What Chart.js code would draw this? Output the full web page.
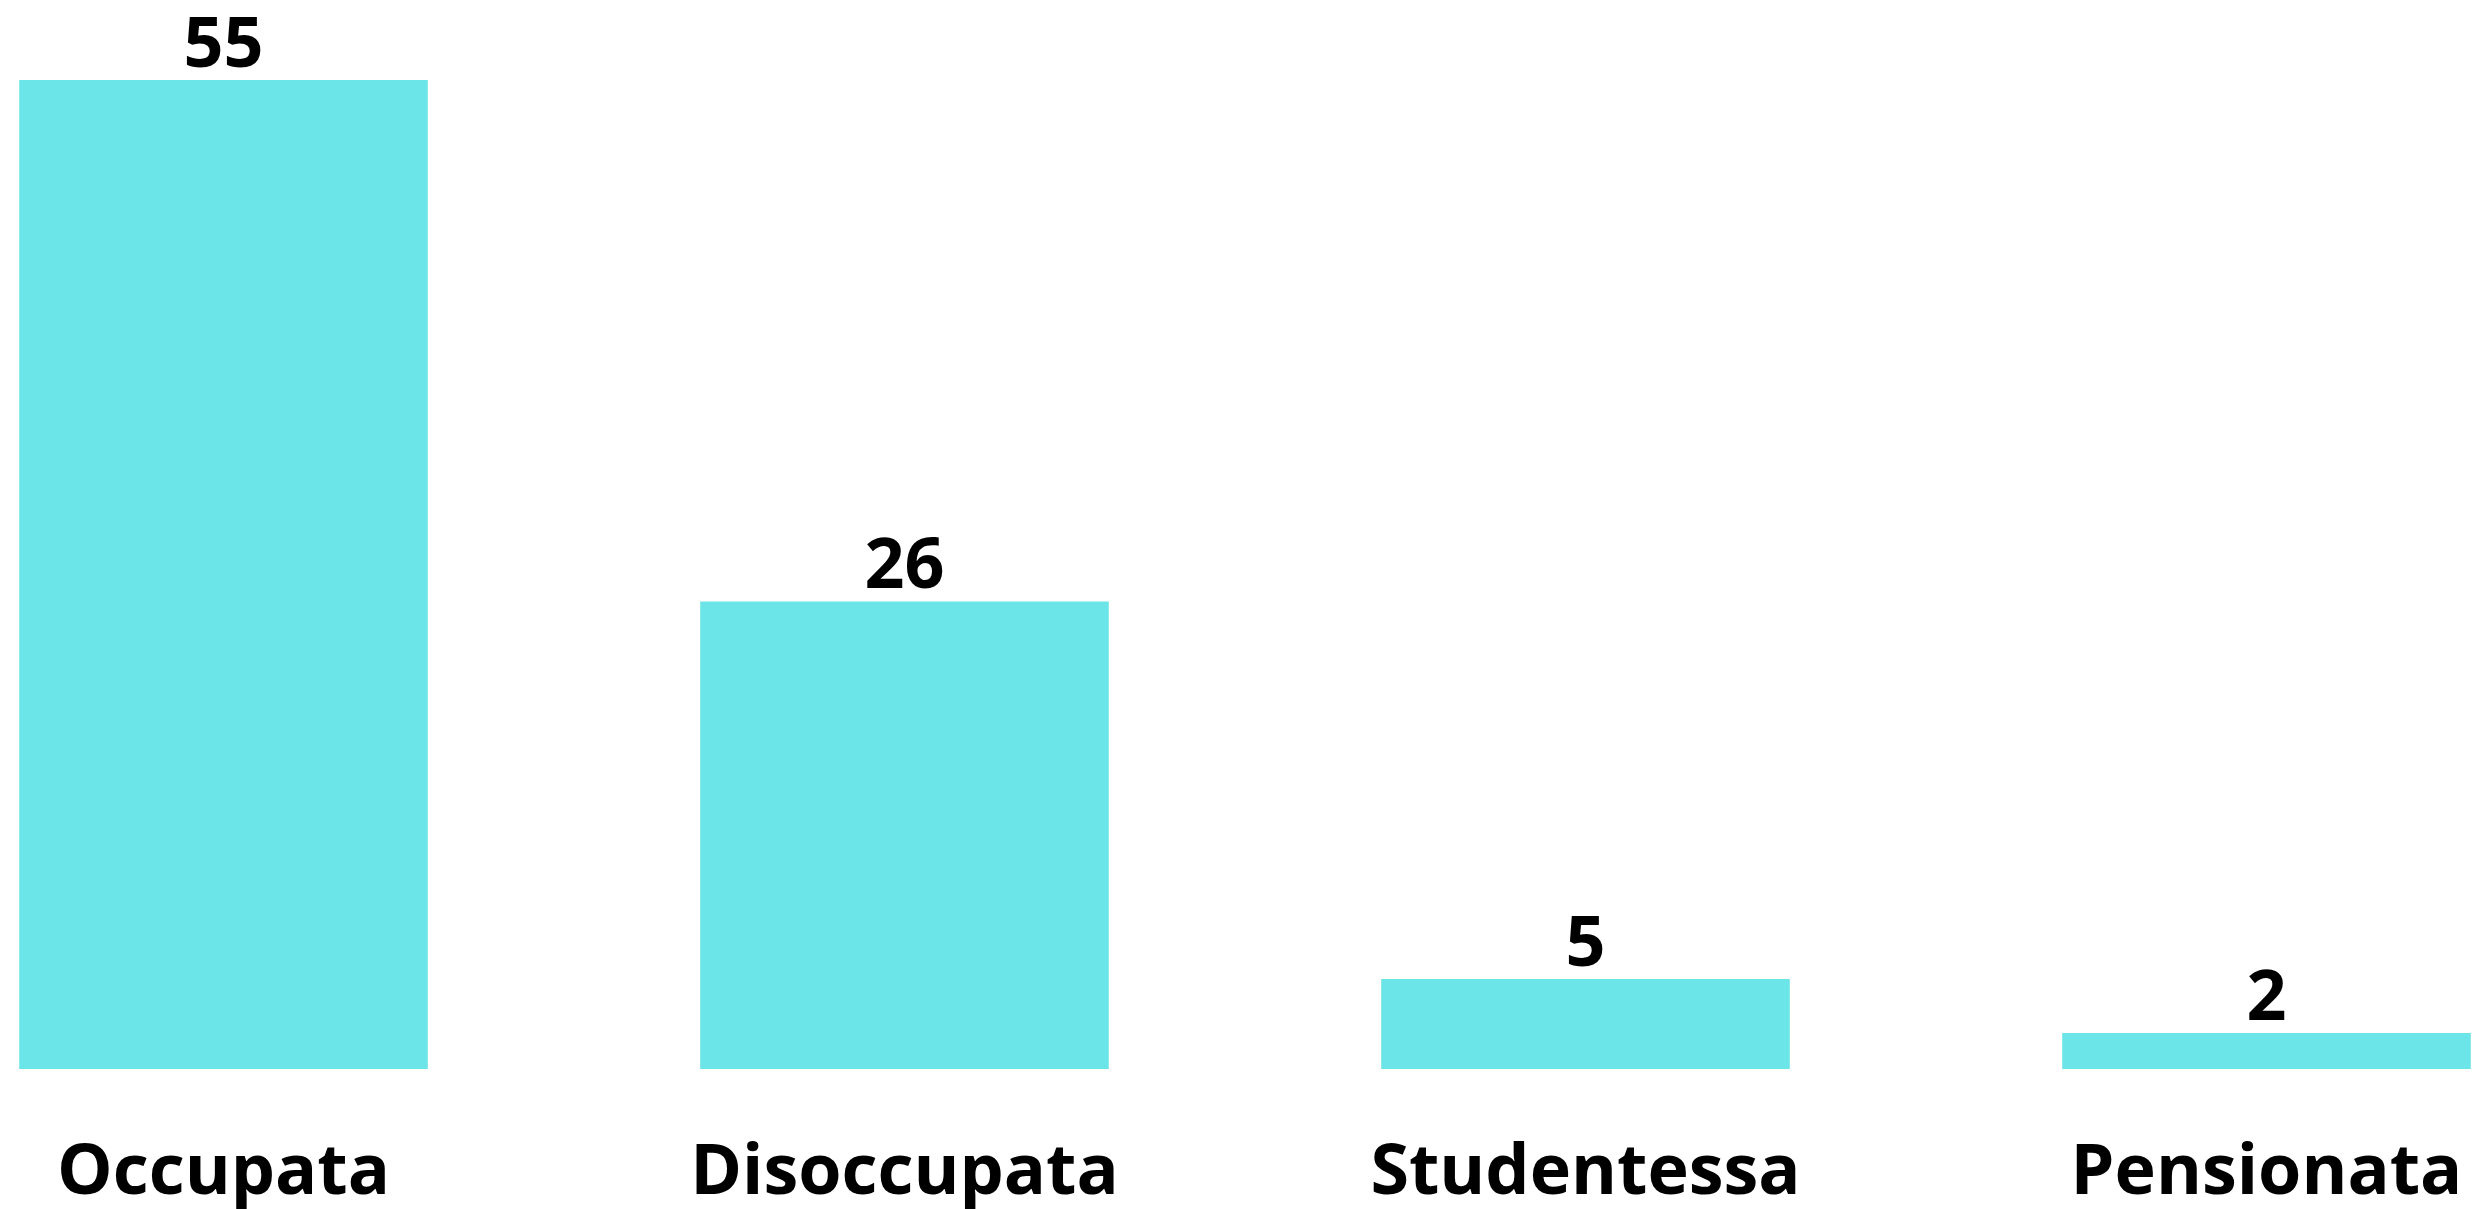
<!DOCTYPE html>
<html>
<head>
<meta charset="utf-8">
<script src="https://cdn.jsdelivr.net/npm/chart.js@4/dist/chart.umd.min.js"></script>
<style>
  html, body { margin: 0; padding: 0; background: #ffffff; overflow: hidden; }
  #wrap { width: 2474px; height: 1209px; }
</style>
</head>
<body>
<div id="wrap"><canvas id="c" width="2474" height="1209"></canvas></div>
<script>
const categories = ["Occupata", "Disoccupata", "Studentessa", "Pensionata"];
const values = [55, 26, 5, 2];
const barColor = "#6CE5E8";

const valueLabels = {
  id: "valueLabels",
  afterDatasetsDraw(chart) {
    const ctx = chart.ctx;
    const meta = chart.getDatasetMeta(0);
    ctx.save();
    ctx.font = "bold 70px 'Open Sans'";
    ctx.fillStyle = "#000000";
    ctx.textAlign = "center";
    ctx.textBaseline = "alphabetic";
    meta.data.forEach((bar, i) => {
      ctx.fillText(String(values[i]), bar.x, bar.y - 13);
    });
    ctx.restore();
  }
};

new Chart(document.getElementById("c"), {
  type: "bar",
  data: {
    labels: categories,
    datasets: [{
      data: values,
      backgroundColor: barColor,
      borderWidth: 0,
      categoryPercentage: 0.6,
      barPercentage: 1.0,
      clip: false
    }]
  },
  options: {
    responsive: false,
    animation: false,
    devicePixelRatio: 1,
    layout: { padding: { top: 80, left: 223.5, right: 207.5, bottom: -70 } },
    plugins: { legend: { display: false }, tooltip: { enabled: false } },
    scales: {
      x: {
        offset: false,
        grid: { display: false, drawTicks: false },
        border: { display: false },
        afterFit(scale) { scale.paddingLeft = 0; scale.paddingRight = 0; },
        ticks: {
          color: "#000000",
          padding: 63,
          maxRotation: 0,
          autoSkip: false,
          font: { family: "'Open Sans'", size: 70, weight: "bold" }
        }
      },
      y: {
        display: false,
        min: 0,
        max: 55,
        grid: { display: false }
      }
    }
  },
  plugins: [valueLabels]
});
</script>
</body>
</html>
